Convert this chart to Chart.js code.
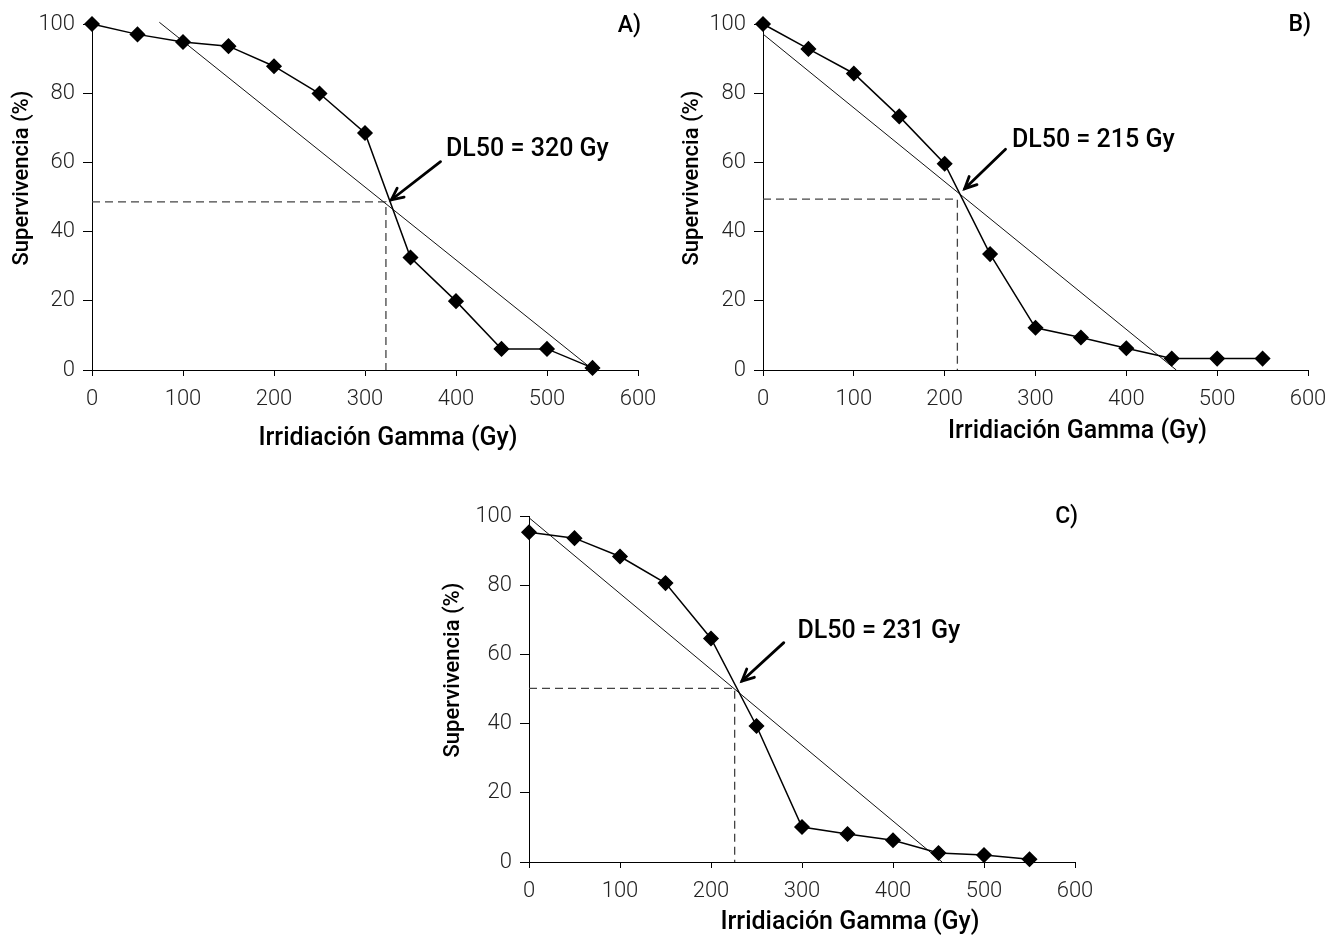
<!DOCTYPE html>
<html>
<head>
<meta charset="utf-8">
<script src="https://cdn.jsdelivr.net/npm/chart.js@4.4.1/dist/chart.umd.min.js"></script>
<style>
  body { margin: 0; background: #fff; width: 1340px; height: 938px; position: relative; overflow: hidden; }
  .panel { position: absolute; }
</style>
</head>
<body>
<div class="panel" style="left:0px;top:0px"><canvas id="chartA" width="670" height="460"></canvas></div>
<div class="panel" style="left:671px;top:0px"><canvas id="chartB" width="669" height="460"></canvas></div>
<div class="panel" style="left:437px;top:492px"><canvas id="chartC" width="670" height="460"></canvas></div>
<script>
// doses (Gy) shared by the three panels
const doses = [0, 50, 100, 150, 200, 250, 300, 350, 400, 450, 500, 550];

// survival (%)
const survivalA = [100, 97, 94.8, 93.6, 87.8, 79.9, 68.5, 32.5, 19.9, 6.1, 6.1, 0.6];
const survivalB = [100, 92.8, 85.7, 73.3, 59.6, 33.5, 12.2, 9.4, 6.3, 3.3, 3.3, 3.3];
const survivalC = [95.3, 93.6, 88.3, 80.6, 64.6, 39.3, 10.1, 8.1, 6.3, 2.6, 2.0, 0.8];

// fitted straight lines [x, y] start / end
const trendA = [[74, 100.5], [551, 0]];
const trendB = [[0, 97.1], [455, 0]];
const trendC = [[0, 99.5], [454, 0]];

// DL50 crossing [dose, survival]
const dl50A = [323, 48.6];
const dl50B = [214, 49.4];
const dl50C = [226, 50.2];

// arrow [tail, head] and label anchor, in data units
const arrowA = [[383, 60.2], [329, 49.2]];
const arrowB = [[267, 63.8], [222, 52.4]];
const arrowC = [[280, 63.4], [234, 52.3]];
const labelAtA = [389, 63.8];
const labelAtB = [274, 66.3];
const labelAtC = [295, 66.6];

const dlTextA = "DL50 = 320 Gy";
const dlTextB = "DL50 = 215 Gy";
const dlTextC = "DL50 = 231 Gy";

const xTitle = "Irridiación Gamma (Gy)";
const yTitle = "Supervivencia (%)";

Chart.defaults.font.family = "Roboto";
Chart.defaults.color = "#222";

// arrow, DL50 label, panel letter and axis titles
const annotate = {
  id: "annotate",
  afterDatasetsDraw(chart, args, opts) {
    const { ctx, chartArea } = chart;
    const x = chart.scales.x, y = chart.scales.y;
    const x1 = x.getPixelForValue(opts.arrow[0][0]), y1 = y.getPixelForValue(opts.arrow[0][1]);
    const x2 = x.getPixelForValue(opts.arrow[1][0]), y2 = y.getPixelForValue(opts.arrow[1][1]);
    const ang = Math.atan2(y2 - y1, x2 - x1);
    const head = 13;

    ctx.save();
    ctx.strokeStyle = "#000";
    ctx.fillStyle = "#000";
    ctx.lineWidth = 2.8;
    ctx.lineCap = "round";
    ctx.beginPath();
    ctx.moveTo(x1, y1);
    ctx.lineTo(x2, y2);
    ctx.stroke();
    ctx.beginPath();
    ctx.moveTo(x2 - head * Math.cos(ang - 0.45), y2 - head * Math.sin(ang - 0.45));
    ctx.lineTo(x2, y2);
    ctx.lineTo(x2 - head * Math.cos(ang + 0.45), y2 - head * Math.sin(ang + 0.45));
    ctx.stroke();

    ctx.font = "500 25px Roboto";
    ctx.textAlign = "left";
    ctx.textBaseline = "middle";
    ctx.fillText(opts.text, x.getPixelForValue(opts.textAt[0]), y.getPixelForValue(opts.textAt[1]));

    ctx.font = "500 23px Roboto";
    ctx.textAlign = "right";
    ctx.fillText(opts.panel, chartArea.right + 3, chartArea.top + opts.panelDrop);

    ctx.font = "500 25px Roboto";
    ctx.textAlign = "center";
    ctx.fillText(xTitle, (chartArea.left + chartArea.right) / 2 + opts.titleShift, chartArea.bottom + opts.titleDrop);

    ctx.font = "500 22px Roboto";
    ctx.translate(opts.yTitleX, (chartArea.top + chartArea.bottom) / 2 - 19);
    ctx.rotate(-Math.PI / 2);
    ctx.fillText(yTitle, 0, 0);
    ctx.restore();
  },
};

function points(xs, ys) {
  return xs.map((d, i) => ({ x: d, y: ys[i] }));
}

function pairs(list) {
  return list.map(p => ({ x: p[0], y: p[1] }));
}

function makeChart(id, survival, trend, dl50, arrow, textAt, text, panel, place) {
  const ctx = document.getElementById(id);
  return new Chart(ctx, {
    type: "scatter",
    data: {
      datasets: [
        {
          data: points(doses, survival),
          showLine: true,
          borderColor: "#000",
          borderWidth: 1.5,
          pointStyle: "rectRot",
          pointRadius: 7,
          pointBackgroundColor: "#000",
          pointBorderColor: "#000",
          clip: false,
        },
        {
          data: pairs(trend),
          showLine: true,
          borderColor: "#111",
          borderWidth: 1,
          pointRadius: 0,
          clip: false,
        },
        {
          data: [{ x: 0, y: dl50[1] }, { x: dl50[0], y: dl50[1] }, { x: dl50[0], y: 0 }],
          showLine: true,
          borderColor: "#444",
          borderWidth: 1.3,
          borderDash: [8, 5],
          pointRadius: 0,
        },
      ],
    },
    options: {
      responsive: false,
      animation: false,
      layout: { padding: { top: 24, right: 32, left: 0, bottom: 0 } },
      plugins: {
        legend: { display: false },
        tooltip: { enabled: false },
        annotate: Object.assign({ arrow, textAt, text, panel }, place),
      },
      scales: {
        x: {
          type: "linear",
          min: 0,
          max: 600,
          ticks: { stepSize: 100, padding: 10, font: { size: 22, weight: "300" }, color: "#222" },
          grid: { drawOnChartArea: false, tickLength: 6, color: "#000" },
          border: { color: "#000", width: 1 },
          afterFit(scale) { scale.height = 90; },
        },
        y: {
          min: 0,
          max: 100,
          ticks: { stepSize: 20, padding: 8, font: { size: 22, weight: "300" }, color: "#222" },
          grid: { drawOnChartArea: false, tickLength: 9, color: "#000" },
          border: { color: "#000", width: 1 },
          afterFit(scale) { scale.width = 92; },
        },
      },
    },
    plugins: [annotate],
  });
}

makeChart("chartA", survivalA, trendA, dl50A, arrowA, labelAtA, dlTextA, "A)",
  { titleShift: 23, titleDrop: 69, yTitleX: 22, panelDrop: 2 });
makeChart("chartB", survivalB, trendB, dl50B, arrowB, labelAtB, dlTextB, "B)",
  { titleShift: 42, titleDrop: 62, yTitleX: 21, panelDrop: 1 });
makeChart("chartC", survivalC, trendC, dl50C, arrowC, labelAtC, dlTextC, "C)",
  { titleShift: 48, titleDrop: 61, yTitleX: 16, panelDrop: 1 });
</script>
</body>
</html>
